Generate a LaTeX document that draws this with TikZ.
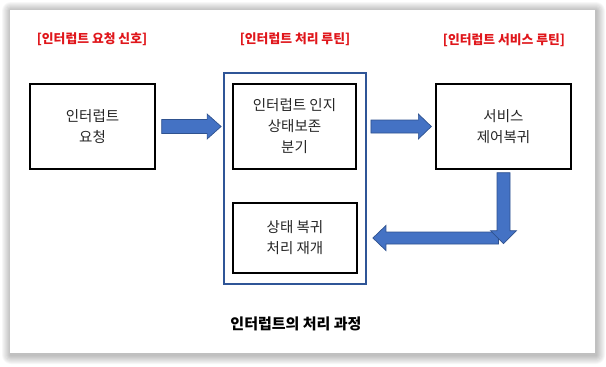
\documentclass[tikz,border=0pt]{standalone}
\usepackage{fontspec}
\setmainfont{Noto Sans CJK KR}
\usetikzlibrary{calc}
\definecolor{arrowfill}{HTML}{4472C4}
\definecolor{arrowline}{HTML}{2F528F}
\definecolor{frameblue}{HTML}{2F5597}
\definecolor{labelred}{HTML}{E0161B}
\definecolor{txt}{HTML}{262626}
\tikzset{
  box/.style={draw=black,line width=1.3pt,minimum width=#1,align=center,text=txt,
     font=\fontsize{14.5}{21}\selectfont,inner sep=0pt},
  redlabel/.style={text=labelred,font=\fontsize{12.8}{14}\selectfont\bfseries},
  fatarrow/.style={fill=arrowfill,draw=arrowline,line width=0.7pt,line join=miter},
}
\begin{document}
\begin{tikzpicture}[x=1pt,y=-1pt]
\useasboundingbox (0,0) rectangle (606,367);
% page shadow
\foreach \i in {1,...,9}{
  \fill[black,opacity=0.03,rounded corners=\i] (11-\i,11-\i) rectangle (596+\i,355+\i);
}
\fill[white] (10,10) rectangle (595,353);

% labels
\node[redlabel] (l1) at (92,39) {[인터럽트 요청 신호]};
\node[redlabel] (l2) at (295,39) {[인터럽트 처리 루틴]};
\node[redlabel] (l3) at (504,40) {[인터럽트 서비스 루틴]};

% boxes
\node[box=125pt,minimum height=85pt] (req) at (92.5,126.5) {인터럽트\\요청};
\node[draw=frameblue,line width=1.8pt,minimum width=142pt,minimum height=211pt,inner sep=0pt] (proc) at (295,178.5) {};
\node[box=123pt,minimum height=85pt] (in1) at (294.5,126.5) {인터럽트 인지\\상태보존\\분기};
\node[box=124pt,minimum height=70pt] (in2) at (295,238) {상태 복귀\\처리 재개};
\node[box=135pt,minimum height=85pt] (svc) at (503.5,126.5) {서비스\\제어복귀};

% arrow 1: req -> proc
\coordinate (a1s) at ($(req.east)+(6,0)$);
\coordinate (a1e) at ($(proc.west|-req.east)+(-2,0)$);
\draw[fatarrow] ($(a1s)+(0,-7)$) -- ($(a1e)+(-14,-7)$) -- ($(a1e)+(-14,-12.5)$) -- (a1e)
  -- ($(a1e)+(-14,12.5)$) -- ($(a1e)+(-14,7)$) -- ($(a1s)+(0,7)$) -- cycle;

% arrow 2: proc -> svc
\coordinate (a2s) at ($(proc.east|-svc.west)+(4,0)$);
\coordinate (a2e) at ($(svc.west)+(-4,0)$);
\draw[fatarrow] ($(a2s)+(0,-6.5)$) -- ($(a2e)+(-13,-6.5)$) -- ($(a2e)+(-13,-12.5)$) -- (a2e)
  -- ($(a2e)+(-13,12.5)$) -- ($(a2e)+(-13,6.5)$) -- ($(a2s)+(0,6.5)$) -- cycle;

% arrow 3: back to in2 (left)
\coordinate (a3s) at ($(svc.center|-in2.center)+(-5,0)$);
\coordinate (a3e) at ($(proc.east|-in2.center)+(6,0)$);
\draw[fatarrow] ($(a3s)+(0,-6)$) -- ($(a3e)+(13,-6)$) -- ($(a3e)+(13,-12.5)$) -- (a3e)
  -- ($(a3e)+(13,12.5)$) -- ($(a3e)+(13,6)$) -- ($(a3s)+(0,6)$) -- cycle;

% arrow 4: down from svc
\coordinate (a4s) at ($(svc.south)+(0,3)$);
\coordinate (a4e) at ($(svc.south)+(0,74)$);
\draw[fatarrow] ($(a4s)+(-6.5,0)$) -- ($(a4e)+(-6.5,-13)$) -- ($(a4e)+(-13,-13)$) -- (a4e)
  -- ($(a4e)+(13,-13)$) -- ($(a4e)+(6.5,-13)$) -- ($(a4s)+(6.5,0)$) -- cycle;

% caption
\node[font=\fontsize{15}{17}\selectfont\bfseries,text=black] (cap) at (296,324) {인터럽트의 처리 과정};
\end{tikzpicture}
\end{document}
